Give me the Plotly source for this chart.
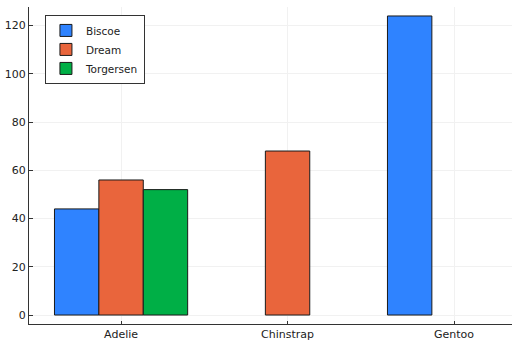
import plotly.graph_objects as go

categories = ["Adelie", "Chinstrap", "Gentoo"]
biscoe = [44, None, 124]
dream = [56, 68, None]
torgersen = [52, None, None]
y_ticks = [0, 20, 40, 60, 80, 100, 120]

series = [("Biscoe", biscoe, "#2F83FF"), ("Dream", dream, "#E9653C"), ("Torgersen", torgersen, "#00AF46")]

fig = go.Figure()
for name, vals, col in series:
    fig.add_trace(go.Bar(x=categories, y=vals, name=name, marker=dict(color=col, line=dict(color="#1a1a1a", width=1))))

fig.update_layout(
    width=517, height=355,
    margin=dict(l=29, r=5, t=7, b=31, autoexpand=False),
    barmode="group", bargap=0.2, bargroupgap=0,
    plot_bgcolor="white", paper_bgcolor="white",
    font=dict(family="DejaVu Sans", size=11, color="#222"),
    showlegend=True,
    legend=dict(x=0.033, y=0.975, xanchor="left", yanchor="top",
                bgcolor="white", bordercolor="#333", borderwidth=1,
                font=dict(size=10.5), tracegroupgap=0, itemwidth=30),
)
fig.update_xaxes(range=[-0.553, 2.348], showline=True, linecolor="#333", linewidth=1,
                 showgrid=True, gridcolor="#f1f1f1", ticks="inside", ticklen=3,
                 tickcolor="#333", zeroline=False, tickfont=dict(size=11), automargin=False)
fig.update_yaxes(range=[-3.72, 127.72], tickvals=y_ticks, showline=True, linecolor="#333", linewidth=1,
                 showgrid=True, gridcolor="#f1f1f1", ticks="inside", ticklen=4,
                 tickcolor="#333", zeroline=False, tickfont=dict(size=11), automargin=False)
fig.write_html("out.html", config={"displayModeBar": False},
               post_script="document.body.style.margin='0';")
